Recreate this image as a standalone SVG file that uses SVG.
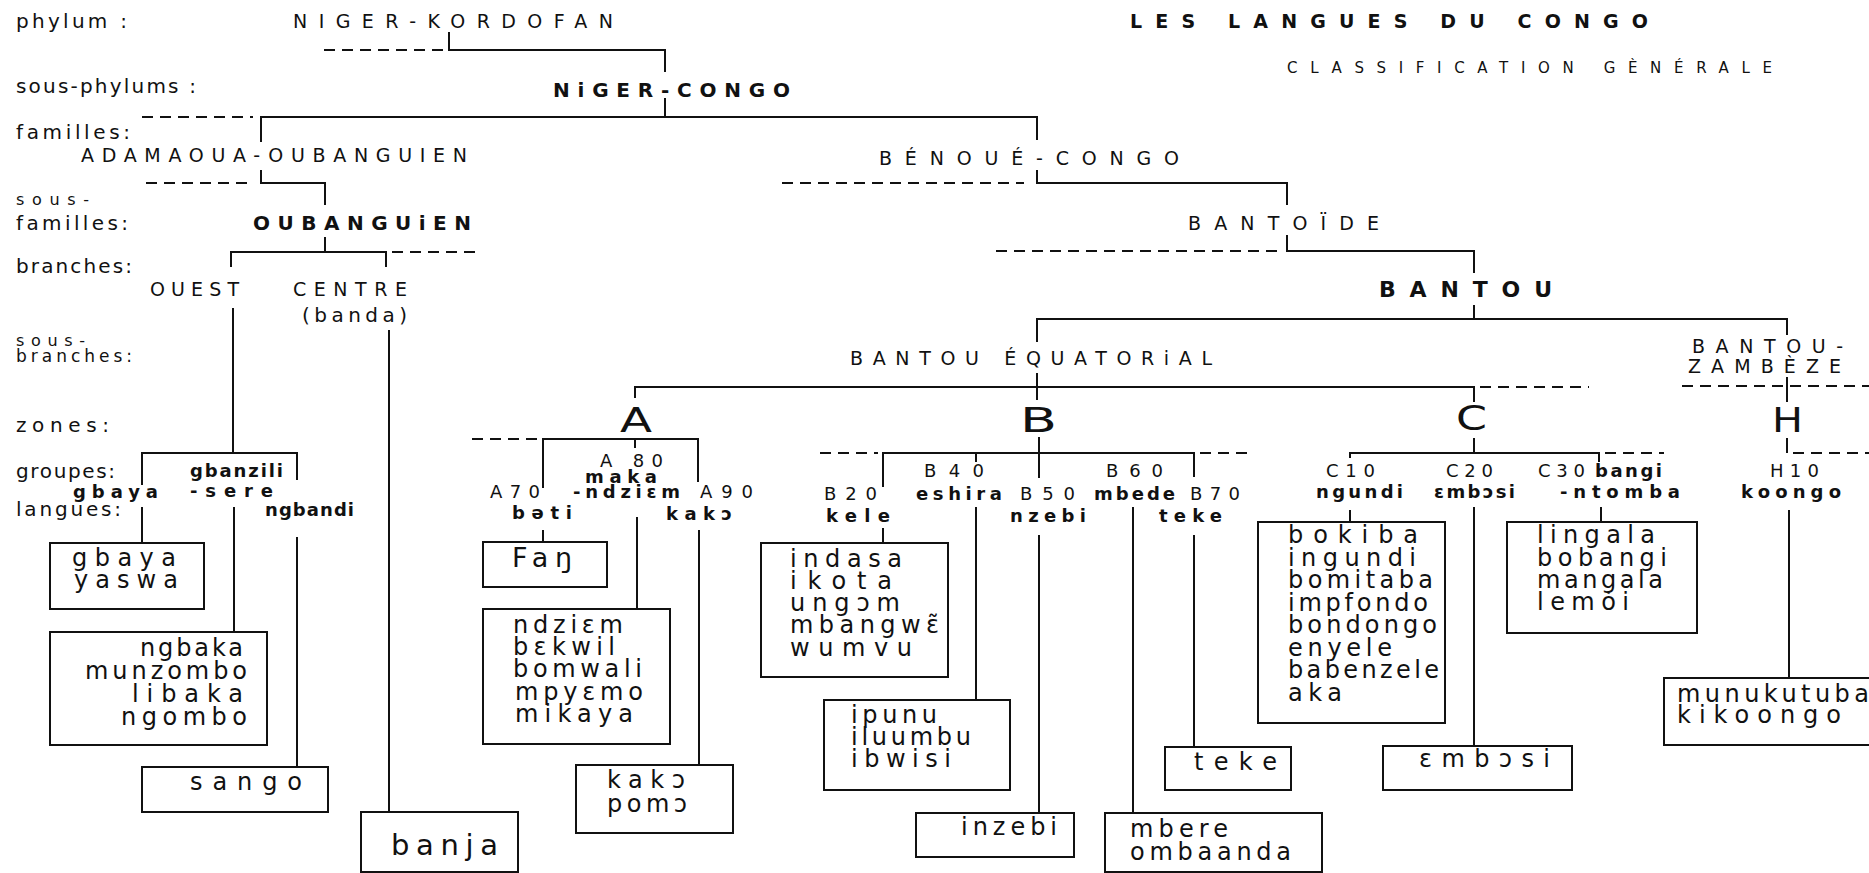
<svg xmlns="http://www.w3.org/2000/svg" width="1869" height="873" viewBox="0 0 1869 873">
<style>
text{font-family:"DejaVu Sans","Liberation Sans",sans-serif;fill:#111}
.lbl{font-size:20px}
.cap{font-size:19px}
.bcap{font-size:20px;font-weight:bold}
.grp{font-size:18px;font-weight:bold}
.code{font-size:18px}
.lang{font-size:24px}
.zone{font-size:34px}
.title{font-size:19px;font-weight:bold}
.sub{font-size:15px}
.box{fill:none;stroke:#111;stroke-width:2}
.ln{fill:none;stroke:#111;stroke-width:2}
.dash{fill:none;stroke:#111;stroke-width:2;stroke-dasharray:11 7}
</style>
<rect width="1869" height="873" fill="#fff"/>

<g id="levels">
<text class="lbl" x="16" y="28" textLength="111" lengthAdjust="spacing">phylum :</text>
<text class="lbl" x="16" y="93" textLength="180" lengthAdjust="spacing">sous-phylums :</text>
<text class="lbl" x="16" y="139" textLength="114" lengthAdjust="spacing">familles:</text>
<text class="lbl" x="16" y="205" style="font-size:16px" textLength="73" lengthAdjust="spacing">sous-</text>
<text class="lbl" x="16" y="230" textLength="112" lengthAdjust="spacing">familles:</text>
<text class="lbl" x="16" y="273" textLength="116" lengthAdjust="spacing">branches:</text>
<text class="lbl" x="16" y="346" style="font-size:16px" textLength="69" lengthAdjust="spacing">sous-</text>
<text class="lbl" x="16" y="362" style="font-size:17px" textLength="116" lengthAdjust="spacing">branches:</text>
<text class="lbl" x="16" y="432" textLength="93" lengthAdjust="spacing">zones:</text>
<text class="lbl" x="16" y="478" textLength="99" lengthAdjust="spacing">groupes:</text>
<text class="lbl" x="16" y="516" textLength="105" lengthAdjust="spacing">langues:</text>
</g>

<g id="title">
<text class="title" x="1130" y="28" textLength="518" lengthAdjust="spacing">LES LANGUES DU CONGO</text>
<text class="sub" x="1287" y="73" textLength="485" lengthAdjust="spacing">CLASSIFICATION  GÈNÉRALE</text>
</g>

<g id="connectors">
<path class="ln" d="M449 32V50H665V72"/>
<path class="dash" d="M324 50H443"/>
<path class="ln" d="M665 98V117M261 142V117H1037V140"/>
<path class="dash" d="M142 117H253"/>
<path class="ln" d="M261 170V183H325V205"/>
<path class="dash" d="M146 183H253"/>
<path class="ln" d="M325 237V252M231 267V252H386V267"/>
<path class="dash" d="M392 252H478"/>
<path class="ln" d="M233 308V453M142 485V453H297V480"/>
<path class="ln" d="M142 507V543M234 507V632M297 537V767"/>
<path class="ln" d="M389 330V812"/>
<path class="ln" d="M1037 170V183H1287V205"/>
<path class="dash" d="M782 183H1024"/>
<path class="ln" d="M1287 235V251H1474V273"/>
<path class="dash" d="M996 251H1280"/>
<path class="ln" d="M1474 305V319M1037 342V319H1787V335"/>
<path class="ln" d="M1037 373V400M635 398V387H1474V402"/>
<path class="dash" d="M1480 387H1589"/>
<path class="ln" d="M1787 377V402"/>
<path class="dash" d="M1682 386H1869"/>
<path class="ln" d="M543 488V439H698V482M635 439V448"/>
<path class="dash" d="M472 439H537"/>
<path class="ln" d="M543 530V542M637 517V609M699 530V765"/>
<path class="ln" d="M1039 437V478M883 487V453H1194V477M976 453V462"/>
<path class="dash" d="M820 453H878M1200 453H1252"/>
<path class="ln" d="M883 528V543M976 507V700M1039 535V812M1133 507V813M1194 535V747"/>
<path class="ln" d="M1474 438V453M1350 458V453H1599V462"/>
<path class="dash" d="M1605 453H1664"/>
<path class="ln" d="M1350 510V522M1474 507V746M1601 507V522"/>
<path class="ln" d="M1787 438V453"/>
<path class="dash" d="M1793 453H1869"/>
<path class="ln" d="M1789 510V678"/>
</g>

<g id="niger-kordofan"><text class="cap" x="293" y="28" textLength="320" lengthAdjust="spacing">NIGER-KORDOFAN</text></g>
<g id="niger-congo"><text class="bcap" x="553" y="97" textLength="237" lengthAdjust="spacing">NiGER-CONGO</text></g>
<g id="adamaoua-oubanguien"><text class="cap" x="81" y="162" textLength="386" lengthAdjust="spacing">ADAMAOUA-OUBANGUIEN</text></g>
<g id="oubanguien"><text class="bcap" x="253" y="230" textLength="218" lengthAdjust="spacing">OUBANGUiEN</text></g>
<g id="ouest"><text class="cap" x="150" y="296" textLength="89" lengthAdjust="spacing">OUEST</text></g>
<g id="centre"><text class="cap" x="293" y="296" textLength="114" lengthAdjust="spacing">CENTRE</text>
<text class="lbl" x="302" y="322" textLength="105" lengthAdjust="spacing">(banda)</text></g>
<g id="benoue-congo"><text class="cap" x="879" y="165" textLength="300" lengthAdjust="spacing">BÉNOUÉ-CONGO</text></g>
<g id="bantoide"><text class="cap" x="1188" y="230" textLength="191" lengthAdjust="spacing">BANTOÏDE</text></g>
<g id="bantou"><text class="bcap" x="1379" y="297" style="font-size:22px" textLength="173" lengthAdjust="spacing">BANTOU</text></g>
<g id="bantou-equatorial"><text class="cap" x="850" y="365" textLength="362" lengthAdjust="spacing">BANTOU  ÉQUATORiAL</text></g>
<g id="bantou-zambeze"><text class="cap" x="1692" y="353" textLength="151" lengthAdjust="spacing">BANTOU-</text>
<text class="cap" x="1688" y="373" textLength="153" lengthAdjust="spacing">ZAMBÈZE</text></g>

<g id="zone-a"><text class="zone" x="620" y="432" textLength="32" lengthAdjust="spacingAndGlyphs">A</text></g>
<g id="zone-b"><text class="zone" x="1020" y="432" textLength="37" lengthAdjust="spacingAndGlyphs">B</text></g>
<g id="zone-c"><text class="zone" x="1456" y="430" textLength="31" lengthAdjust="spacingAndGlyphs">C</text></g>
<g id="zone-h"><text class="zone" x="1772" y="432" textLength="31" lengthAdjust="spacingAndGlyphs">H</text></g>

<g id="grp-gbaya"><text class="grp" x="73" y="498" textLength="85" lengthAdjust="spacing">gbaya</text>
<rect class="box" x="50" y="543" width="154" height="66"/>
<text class="lang" x="72" y="566" textLength="104" lengthAdjust="spacing">gbaya</text>
<text class="lang" x="74" y="588" textLength="104" lengthAdjust="spacing">yaswa</text></g>

<g id="grp-gbanzili-sere"><text class="grp" x="190" y="477" textLength="93" lengthAdjust="spacing">gbanzili</text>
<text class="grp" x="190" y="497" textLength="83" lengthAdjust="spacing">-sere</text>
<rect class="box" x="50" y="632" width="217" height="113"/>
<text class="lang" x="140" y="656" textLength="103" lengthAdjust="spacing">ngbaka</text>
<text class="lang" x="85" y="679" textLength="162" lengthAdjust="spacing">munzombo</text>
<text class="lang" x="132" y="702" textLength="111" lengthAdjust="spacing">libaka</text>
<text class="lang" x="121" y="725" textLength="126" lengthAdjust="spacing">ngombo</text></g>

<g id="grp-ngbandi"><text class="grp" x="265" y="516" textLength="89" lengthAdjust="spacing">ngbandi</text>
<rect class="box" x="142" y="767" width="186" height="45"/>
<text class="lang" x="190" y="790" textLength="112" lengthAdjust="spacing">sango</text></g>

<g id="grp-banda"><rect class="box" x="361" y="812" width="157" height="60"/>
<text class="lang" x="391" y="855" style="font-size:29px" textLength="107" lengthAdjust="spacing">banja</text></g>

<g id="grp-a70"><text class="code" x="490" y="498" textLength="50" lengthAdjust="spacing">A70</text>
<text class="grp" x="512" y="519" textLength="60" lengthAdjust="spacing">bəti</text>
<rect class="box" x="483" y="542" width="124" height="45"/>
<text class="lang" x="512" y="567" style="font-size:27px" textLength="60" lengthAdjust="spacing">Faŋ</text></g>

<g id="grp-a80"><text class="code" x="600" y="467" textLength="63" lengthAdjust="spacing">A 80</text>
<text class="grp" x="585" y="483" textLength="72" lengthAdjust="spacing">maka</text>
<text class="grp" x="573" y="498" textLength="107" lengthAdjust="spacing">-ndziɛm</text>
<rect class="box" x="483" y="609" width="187" height="135"/>
<text class="lang" x="513" y="633" textLength="110" lengthAdjust="spacing">ndziɛm</text>
<text class="lang" x="513" y="655" textLength="102" lengthAdjust="spacing">bɛkwil</text>
<text class="lang" x="513" y="677" textLength="129" lengthAdjust="spacing">bomwali</text>
<text class="lang" x="515" y="700" textLength="128" lengthAdjust="spacing">mpyɛmo</text>
<text class="lang" x="515" y="722" textLength="118" lengthAdjust="spacing">mikaya</text></g>

<g id="grp-a90"><text class="code" x="700" y="498" textLength="53" lengthAdjust="spacing">A90</text>
<text class="grp" x="666" y="520" textLength="66" lengthAdjust="spacing">kakɔ</text>
<rect class="box" x="576" y="765" width="157" height="68"/>
<text class="lang" x="607" y="788" textLength="78" lengthAdjust="spacing">kakɔ</text>
<text class="lang" x="607" y="812" textLength="80" lengthAdjust="spacing">pomɔ</text></g>

<g id="grp-b20"><text class="code" x="824" y="500" textLength="53" lengthAdjust="spacing">B20</text>
<text class="grp" x="826" y="522" textLength="64" lengthAdjust="spacing">kele</text>
<rect class="box" x="761" y="543" width="187" height="134"/>
<text class="lang" x="790" y="567" textLength="112" lengthAdjust="spacing">indasa</text>
<text class="lang" x="790" y="589" textLength="102" lengthAdjust="spacing">ikota</text>
<text class="lang" x="790" y="611" textLength="110" lengthAdjust="spacing">ungɔm</text>
<text class="lang" x="790" y="633" textLength="149" lengthAdjust="spacing">mbangwɛ̃</text>
<text class="lang" x="790" y="656" textLength="122" lengthAdjust="spacing">wumvu</text></g>

<g id="grp-b40"><text class="code" x="924" y="477" textLength="60" lengthAdjust="spacing">B40</text>
<text class="grp" x="916" y="500" textLength="86" lengthAdjust="spacing">eshira</text>
<rect class="box" x="824" y="700" width="186" height="90"/>
<text class="lang" x="851" y="723" textLength="86" lengthAdjust="spacing">ipunu</text>
<text class="lang" x="851" y="745" textLength="120" lengthAdjust="spacing">iluumbu</text>
<text class="lang" x="851" y="767" textLength="100" lengthAdjust="spacing">ibwisi</text></g>

<g id="grp-b50"><text class="code" x="1020" y="500" textLength="55" lengthAdjust="spacing">B50</text>
<text class="grp" x="1010" y="522" textLength="76" lengthAdjust="spacing">nzebi</text>
<rect class="box" x="916" y="813" width="158" height="44"/>
<text class="lang" x="961" y="835" textLength="96" lengthAdjust="spacing">inzebi</text></g>

<g id="grp-b60"><text class="code" x="1106" y="477" textLength="57" lengthAdjust="spacing">B60</text>
<text class="grp" x="1094" y="500" textLength="81" lengthAdjust="spacing">mbede</text>
<rect class="box" x="1105" y="813" width="217" height="59"/>
<text class="lang" x="1130" y="837" textLength="98" lengthAdjust="spacing">mbere</text>
<text class="lang" x="1130" y="860" textLength="161" lengthAdjust="spacing">ombaanda</text></g>

<g id="grp-b70"><text class="code" x="1190" y="500" textLength="50" lengthAdjust="spacing">B70</text>
<text class="grp" x="1159" y="522" textLength="63" lengthAdjust="spacing">teke</text>
<rect class="box" x="1165" y="747" width="126" height="43"/>
<text class="lang" x="1194" y="770" textLength="83" lengthAdjust="spacing">teke</text></g>

<g id="grp-c10"><text class="code" x="1326" y="477" textLength="49" lengthAdjust="spacing">C10</text>
<text class="grp" x="1316" y="498" textLength="87" lengthAdjust="spacing">ngundi</text>
<rect class="box" x="1258" y="522" width="187" height="201"/>
<text class="lang" x="1288" y="543" textLength="130" lengthAdjust="spacing">bokiba</text>
<text class="lang" x="1288" y="566" textLength="128" lengthAdjust="spacing">ingundi</text>
<text class="lang" x="1288" y="588" textLength="145" lengthAdjust="spacing">bomitaba</text>
<text class="lang" x="1288" y="611" textLength="140" lengthAdjust="spacing">impfondo</text>
<text class="lang" x="1288" y="633" textLength="149" lengthAdjust="spacing">bondongo</text>
<text class="lang" x="1288" y="656" textLength="104" lengthAdjust="spacing">enyele</text>
<text class="lang" x="1288" y="678" textLength="151" lengthAdjust="spacing">babenzele</text>
<text class="lang" x="1288" y="701" textLength="54" lengthAdjust="spacing">aka</text></g>

<g id="grp-c20"><text class="code" x="1446" y="477" textLength="47" lengthAdjust="spacing">C20</text>
<text class="grp" x="1434" y="498" textLength="81" lengthAdjust="spacing">ɛmbɔsi</text>
<rect class="box" x="1383" y="746" width="189" height="44"/>
<text class="lang" x="1419" y="767" textLength="131" lengthAdjust="spacing">ɛmbɔsi</text></g>

<g id="grp-c30"><text class="code" x="1538" y="477" textLength="47" lengthAdjust="spacing">C30</text>
<text class="grp" x="1595" y="477" textLength="67" lengthAdjust="spacing">bangi</text>
<text class="grp" x="1560" y="498" textLength="120" lengthAdjust="spacing">-ntomba</text>
<rect class="box" x="1507" y="522" width="190" height="111"/>
<text class="lang" x="1537" y="543" textLength="118" lengthAdjust="spacing">lingala</text>
<text class="lang" x="1537" y="566" textLength="130" lengthAdjust="spacing">bobangi</text>
<text class="lang" x="1537" y="588" textLength="126" lengthAdjust="spacing">mangala</text>
<text class="lang" x="1537" y="610" textLength="92" lengthAdjust="spacing">lemȯi</text></g>

<g id="grp-h10"><text class="code" x="1770" y="477" textLength="49" lengthAdjust="spacing">H10</text>
<text class="grp" x="1741" y="498" textLength="100" lengthAdjust="spacing">koongo</text>
<rect class="box" x="1664" y="678" width="220" height="67"/>
<text class="lang" x="1677" y="702" textLength="192" lengthAdjust="spacing">munukutuba</text>
<text class="lang" x="1677" y="723" textLength="164" lengthAdjust="spacing">kikoongo</text></g>
</svg>
